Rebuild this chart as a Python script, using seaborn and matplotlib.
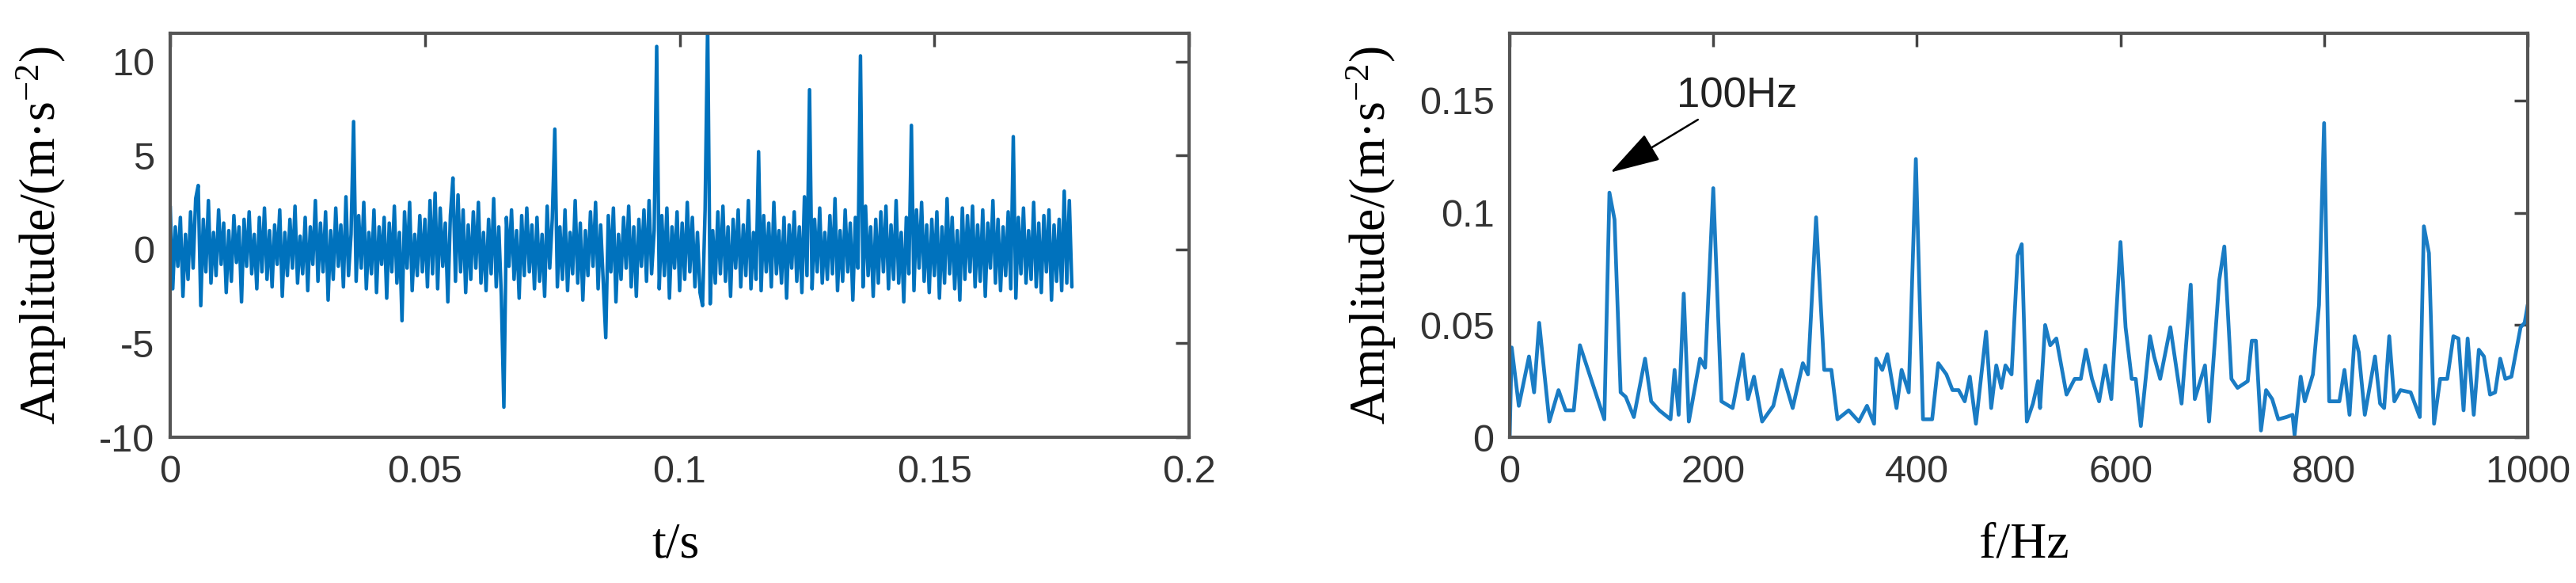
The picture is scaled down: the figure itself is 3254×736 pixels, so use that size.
import matplotlib
matplotlib.use("Agg")
import matplotlib.pyplot as plt
import numpy as np
import seaborn as sns

# time signal: base noise band, one value per sample (dt = 0.5 ms)
dt = 0.0005
sig_base = [
    2.3, -2.1, 1.2, -0.9, 1.7, -2.5, 0.8, -1.6, 2.0, -1.0, 2.7, 0.5, -3.0, 1.6, -1.2, 2.6, -1.8, 0.9, -1.4, 2.1,
    -0.8, 1.4, -2.3, 1.0, -1.7, 1.8, -0.7, 1.2, -2.8, 1.6, -0.9, 2.0, -1.3, 0.8, -2.1, 1.7, -1.2, 2.2, -1.6, 1.0,
    -2.0, 1.3, -0.8, 2.1, -2.5, 0.9, -1.4, 1.6, -1.0, 2.3, -1.8, 0.7, -1.3, 1.7, -2.2, 1.2, -0.8, 2.6, -1.7, 1.4,
    -1.2, 2.0, -2.7, 1.0, -1.6, 2.2, -0.9, 1.3, -2.0, 2.8, -1.4, 0.8, 0.7, -1.7, 1.8, -1.0, 2.5, -2.1, 0.9, -1.3,
    2.1, -2.3, 1.2, -0.8, 1.7, -2.6, 1.4, -1.2, 2.3, -1.8, 0.9, -1.6, 2.0, -1.0, 2.5, -2.2, 0.8, -1.4, 1.8, -1.2,
    1.6, -2.0, 2.6, -1.3, 1.0, -2.1, 2.2, -0.9, 1.4, -2.8, 1.8, 1.2, -1.7, 2.9, -1.2, 2.1, -2.3, 1.3, -1.6, 2.0,
    -1.0, 2.5, -1.8, 0.9, -2.2, 1.6, -1.3, 2.7, -2.0, 1.2, -2.5, -1.3, 1.7, -0.9, 2.1, -1.6, 1.0, -2.6, 1.8, -1.4,
    2.2, -1.2, 1.3, -2.1, 1.7, -1.7, 0.8, -2.5, 2.3, -1.0, 1.6, 1.3, -2.0, 1.2, -1.6, 2.1, -2.2, 0.9, -1.3, 2.6,
    -1.8, 1.4, -2.7, 1.0, -1.4, 2.0, -0.9, 2.5, -2.1, 1.3, -1.7, -1.3, 1.8, -1.2, 2.2, -2.8, 0.8, -1.6, 1.7, -1.0,
    2.3, -2.0, 1.2, -2.5, 1.6, -0.9, 2.1, -1.7, 2.6, -1.3, 1.0, 1.3, -2.1, 1.8, -1.4, 2.2, -2.6, 1.2, -1.0, 2.0,
    -2.2, 1.4, -1.6, 2.5, -1.2, 1.7, -2.0, 0.9, -2.3, -1.3, 2.1, 1.3, -2.9, 1.0, -1.8, 2.0, -1.3, 2.3, -1.7, 1.2,
    -2.5, 1.6, -1.0, 2.1, -2.0, 1.3, -1.4, 2.6, -2.1, 0.9, -1.6, 1.3, -2.2, 1.8, -1.2, 1.4, -2.0, 2.5, -1.3, 1.0,
    -1.8, 1.7, -2.6, 1.3, -1.0, 2.0, -1.7, 1.2, -2.3, 2.8, -1.4, 1.3, -2.1, 1.6, -1.2, 2.2, -1.8, 0.9, -1.6, 1.8,
    -1.3, 2.7, -2.2, 1.0, -1.7, 2.1, -1.2, 1.4, -2.7, 1.7, -1.0, 1.3, -2.0, 2.3, -1.4, 1.2, -2.5, 1.6, -1.8, 2.0,
    -1.2, 2.3, -2.1, 1.3, -1.6, 2.6, -1.8, 0.9, -2.8, 1.7, -1.3, 1.3, -2.2, 2.1, -1.0, 2.5, -1.7, 1.3, -2.3, 1.6,
    -1.4, 2.0, -2.6, 1.2, -1.8, 2.7, -1.3, 1.7, -2.1, 1.0, -2.7, 2.2, -1.6, 1.8, -1.2, 2.3, -2.0, 1.3, -1.7, 2.1,
    -2.5, 1.4, -1.0, 2.6, -1.8, 1.6, -2.2, 1.2, -1.4, 2.0, -2.1, 1.3, -2.6, 1.7, -1.3, 2.2, -1.8, 1.0, -1.6, 2.5,
    -2.0, 1.4, -2.3, 1.8, -1.2, 2.1, -2.7, 1.3, -1.7, 1.6, -2.2, 1.3, -1.8, 2.6, -2.0,
]
# impulses (every ~10 ms)
spike_t = [0.0055, 0.036, 0.0455, 0.052, 0.0555, 0.0655, 0.0755, 0.0855,
           0.0955, 0.1045, 0.1055, 0.1155, 0.1255, 0.1355, 0.1455, 0.1655, 0.1755]
spike_amp = [3.4, 6.8, -3.8, 3.0, 3.8, -8.4, 6.4, -4.7,
             10.8, -3.0, 12.0, 5.2, 8.5, 10.3, 6.6, 6.0, 3.1]

# envelope spectrum
freq = [0, 2, 9, 19, 24, 29, 39, 48, 55, 63,
        69, 93, 98, 103, 109, 114, 122, 133, 139, 147,
        158, 162, 166, 171, 176, 187, 192, 200, 208, 219,
        229, 234, 240, 248, 259, 267, 278, 288, 293, 301,
        309, 316, 322, 333, 343, 351, 358, 360, 366, 371,
        380, 385, 392, 399, 406, 415, 421, 429, 435, 441,
        447, 452, 458, 468, 473, 478, 483, 487, 493, 499,
        503, 508, 514, 519, 521, 526, 531, 537, 547, 555,
        561, 566, 572, 579, 585, 591, 600, 605, 611, 615,
        620, 629, 633, 639, 649, 660, 669, 673, 683, 687,
        697, 702, 709, 715, 725, 729, 733, 738, 743, 749,
        755, 763, 769, 771, 777, 781, 789, 795, 800, 805,
        815, 820, 825, 830, 834, 840, 850, 855, 859, 864,
        869, 875, 885, 894, 898, 903, 908, 914, 921, 927,
        932, 937, 941, 947, 952, 957, 963, 968, 973, 978,
        984, 993, 997, 1000]
spec = [0.0, 0.040, 0.014, 0.036, 0.020, 0.051, 0.007, 0.021, 0.012, 0.012,
        0.041, 0.008, 0.109, 0.097, 0.020, 0.018, 0.009, 0.035, 0.016, 0.012,
        0.008, 0.030, 0.010, 0.064, 0.007, 0.035, 0.031, 0.111, 0.016, 0.013,
        0.037, 0.017, 0.027, 0.007, 0.014, 0.030, 0.013, 0.033, 0.028, 0.098,
        0.030, 0.030, 0.008, 0.012, 0.007, 0.014, 0.006, 0.035, 0.030, 0.037,
        0.013, 0.030, 0.020, 0.124, 0.008, 0.008, 0.033, 0.028, 0.021, 0.021,
        0.016, 0.027, 0.006, 0.047, 0.013, 0.032, 0.022, 0.032, 0.028, 0.081,
        0.086, 0.007, 0.015, 0.025, 0.013, 0.050, 0.041, 0.044, 0.019, 0.026,
        0.026, 0.039, 0.026, 0.016, 0.032, 0.017, 0.087, 0.049, 0.026, 0.026,
        0.005, 0.045, 0.036, 0.026, 0.049, 0.015, 0.068, 0.017, 0.032, 0.007,
        0.070, 0.085, 0.026, 0.022, 0.025, 0.043, 0.043, 0.003, 0.021, 0.017,
        0.008, 0.009, 0.010, 0.001, 0.027, 0.016, 0.028, 0.059, 0.140, 0.016,
        0.016, 0.030, 0.010, 0.045, 0.038, 0.010, 0.036, 0.015, 0.013, 0.045,
        0.016, 0.021, 0.020, 0.009, 0.094, 0.082, 0.006, 0.026, 0.026, 0.045,
        0.044, 0.012, 0.044, 0.010, 0.039, 0.036, 0.019, 0.020, 0.035, 0.026,
        0.027, 0.049, 0.051, 0.059]

t_ticks = [0, 0.05, 0.1, 0.15, 0.2]
t_labels = ["0", "0.05", "0.1", "0.15", "0.2"]
a_ticks = [-10, -5, 0, 5, 10]
f_ticks = [0, 200, 400, 600, 800, 1000]
s_ticks = [0, 0.05, 0.1, 0.15]
s_labels = ["0", "0.05", "0.1", "0.15"]

# build signal
sig = np.array(sig_base, dtype=float)
t = np.arange(len(sig)) * dt
for ts, a in zip(spike_t, spike_amp):
    sig[int(round(ts / dt))] = a

sns.set_theme(style="white")
plt.rcParams["font.family"] = ["Liberation Sans", "DejaVu Sans"]
plt.rcParams["axes.unicode_minus"] = False
plt.rcParams["mathtext.fontset"] = "custom"
plt.rcParams["mathtext.rm"] = "Liberation Serif"
plt.rcParams["mathtext.it"] = "Liberation Serif:italic"

line_c = "#0072BD"
spine_c = "#555555"
tick_c = "#333333"
serif = ["Liberation Serif", "DejaVu Serif"]

fig = plt.figure(figsize=(32.55, 7.36), dpi=100)
ax1 = fig.add_axes([215 / 3255, 1 - 552 / 736, 1287 / 3255, 510 / 736])
ax2 = fig.add_axes([1907 / 3255, 1 - 552 / 736, 1286 / 3255, 510 / 736])

sns.lineplot(x=t, y=sig, ax=ax1, color=line_c, linewidth=3.2, estimator=None, sort=False)
sns.lineplot(x=freq, y=spec, ax=ax2, color="#1a7cc4", linewidth=3.4, estimator=None, sort=False)

ax1.set_xlim(0, 0.2)
ax1.set_ylim(-10, 11.5)
ax1.set_xticks(t_ticks)
ax1.set_xticklabels(t_labels)
ax1.set_yticks(a_ticks)

ax2.set_xlim(0, 1000)
ax2.set_ylim(0, 0.18)
ax2.set_xticks(f_ticks)
ax2.set_yticks(s_ticks)
ax2.set_yticklabels(s_labels)

ylab = "Amplitude/(m·s$^{-2}$)"
for ax, xl in [(ax1, "t/s"), (ax2, "f/Hz")]:
    for sp in ax.spines.values():
        sp.set_visible(True)
        sp.set_color(spine_c)
        sp.set_linewidth(3)
    ax.tick_params(direction="in", top=True, right=True, length=12, width=2.5,
                   color="#444444", labelsize=35, labelcolor=tick_c)
    ax.tick_params(axis="x", pad=16)
    ax.tick_params(axis="y", pad=14)
    ax.set_xlabel(xl, fontsize=46, family=serif, color="black")
    ax.set_ylabel(ylab, fontsize=46, family=serif, color="black")
    ax.grid(False)

ax1.xaxis.set_label_coords(0.496, -0.21)
ax2.xaxis.set_label_coords(0.505, -0.21)
ax1.yaxis.set_label_coords(-0.1, 0.5)
ax2.yaxis.set_label_coords(-0.11, 0.5)

ax2.annotate("100Hz", xy=(99, 0.118), xytext=(164, 0.152), fontsize=38,
             color="#222222", va="center", ha="left",
             arrowprops=dict(arrowstyle="-|>,head_length=0.8,head_width=0.24",
                             color="black", lw=1.8, mutation_scale=50,
                             shrinkA=2, shrinkB=0))

fig.savefig("out.png", dpi=100)
